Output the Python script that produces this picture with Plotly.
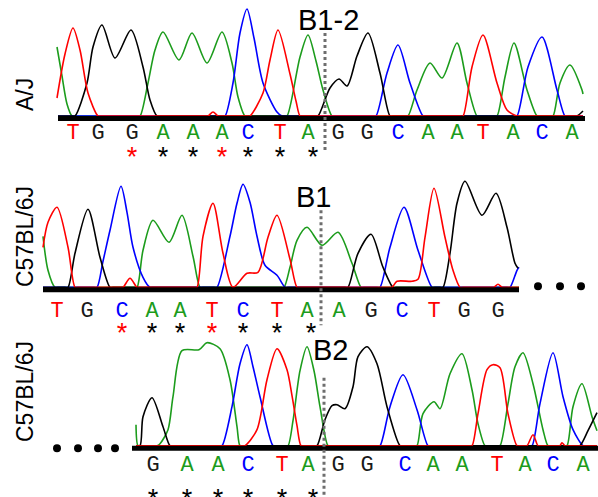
import plotly.graph_objects as go

W, H = 598, 497
GREEN = "#1c9c1c"
BLUE = "#0000ff"
RED = "#ff0000"
BLACK = "#000000"
BASE_COLOR = {"A": GREEN, "C": BLUE, "G": "#1a1a1a", "T": RED}

# ---------------- Panel 1 : A/J ----------------
P1_NAME = "A/J"
P1_CUT = "B1-2"
P1_BASES = list("TGGAAACTAGGCAATACA")
P1_BASE_X = [73, 98, 132, 163, 193, 222, 248, 280, 308, 338, 367, 398, 428, 457, 483, 513, 542, 572]
P1_STAR_X = [132, 163, 193, 222, 248, 280, 313]
P1_STAR_RED = [1, 0, 0, 1, 0, 0, 0]
P1_A = [(57, 69), (62, 40), (67, 12), (72, 0), (140, 0), (148, 33), (155, 66), (163, 84), (179, 56),
        (192, 83), (207, 53), (222, 84), (232, 53), (238, 19), (245, 0), (287, 0), (300, 59), (308, 81),
        (316, 55), (323, 26), (332, 0), (408, 0), (417, 26), (430, 53), (442, 38), (457, 73), (467, 33),
        (477, 0), (497, 0), (505, 39), (514, 73), (527, 26), (537, 0), (553, 0), (560, 33), (570, 51),
        (582, 26), (583, 22)]
P1_C = [(58, 0), (225, 0), (233, 33), (240, 83), (247, 107), (254, 78), (263, 33), (277, 4), (282, 0),
        (376, 0), (387, 43), (398, 71), (410, 33), (423, 0), (517, 0), (528, 49), (542, 79), (557, 26),
        (565, 0), (583, 0)]
P1_G = [(58, 0), (75, 0), (87, 33), (93, 69), (102, 91), (115, 58), (131, 86), (143, 49), (150, 16),
        (157, 0), (318, 0), (330, 28), (339, 37), (347, 30), (357, 60), (368, 83), (380, 43), (390, 0),
        (577, 0), (583, 5)]
P1_T = [(57, 18), (65, 62), (73, 88), (80, 66), (88, 23), (98, 0), (208, 0), (213, 4), (218, 0), (250, 0),
        (263, 23), (270, 56), (278, 86), (290, 42), (296, 15), (300, 0), (463, 0), (472, 49), (483, 81),
        (497, 33), (507, 6), (517, 0), (583, 0)]

# ---------------- Panel 2 : C57BL/6J (B1) ----------------
P2_NAME = "C57BL/6J"
P2_CUT = "B1"
P2_BASES = list("TGCAATCTAAGCTGG")
P2_BASE_X = [57, 87, 122, 152, 180, 212, 243, 277, 307, 339, 371, 402, 434, 464, 498]
P2_STAR_X = [122, 152, 180, 212, 243, 277, 311]
P2_STAR_RED = [1, 0, 0, 1, 0, 0, 0]
P2_A = [(43, 51), (48, 17), (55, 0), (137, 0), (143, 37), (153, 67), (169, 45), (182, 72), (193, 31),
        (200, 0), (284, 0), (290, 20), (297, 47), (307, 60), (322, 42), (338, 55), (352, 24), (361, 0),
        (519, 0)]
P2_C = [(43, 0), (97, 0), (103, 26), (110, 57), (121, 101), (127, 75), (133, 40), (143, 10), (150, 0),
        (217, 0), (230, 51), (237, 84), (243, 103), (250, 85), (257, 51), (265, 22), (277, 12), (285, 0),
        (380, 0), (390, 40), (404, 80), (418, 37), (432, 0), (510, 0), (517, 17), (519, 20)]
P2_G = [(43, 0), (68, 0), (75, 34), (88, 78), (100, 30), (110, 0), (348, 0), (358, 34), (371, 53),
        (383, 20), (393, 0), (443, 0), (450, 34), (457, 84), (465, 106), (482, 72), (496, 94), (507, 60),
        (515, 24), (518, 19)]
P2_T = [(43, 40), (48, 65), (57, 80), (68, 40), (75, 0), (123, 0), (130, 9), (137, 0), (197, 0), (203, 51),
        (213, 84), (223, 34), (233, 0), (247, 14), (258, 15), (268, 50), (277, 72), (290, 28), (297, 0),
        (392, 0), (397, 6), (412, 6), (418, 8), (425, 50), (434, 99), (445, 50), (453, 17), (460, 0),
        (494, 0), (498, 3), (502, 0), (519, 0)]

# ---------------- Panel 3 : C57BL/6J (B2) ----------------
P3_NAME = "C57BL/6J"
P3_CUT = "B2"
P3_BASES = list("GAACTAGGCAATACA")
P3_BASE_X = [153, 187, 218, 248, 282, 308, 338, 367, 405, 433, 462, 497, 525, 553, 583]
P3_STAR_X = [153, 187, 218, 248, 282, 313]
P3_STAR_RED = [0, 0, 0, 0, 0, 0]
P3_A = [(136, 21), (138, 0), (157, 0), (160, 2), (168, 16), (173, 49), (182, 95), (199, 96), (207, 103),
        (220, 97), (230, 66), (237, 19), (240, 0), (288, 0), (293, 25), (300, 75), (307, 99), (314, 75),
        (320, 39), (328, 0), (417, 0), (423, 32), (434, 44), (440, 37), (450, 72), (462, 92), (472, 56),
        (478, 22), (485, 0), (500, 0), (508, 42), (515, 79), (523, 93), (533, 62), (543, 16), (548, 0),
        (567, 0), (573, 39), (582, 62), (592, 29), (597, 15)]
P3_C = [(136, 0), (222, 0), (232, 39), (240, 82), (247, 101), (253, 79), (260, 49), (273, 0), (380, 0),
        (390, 39), (403, 71), (417, 36), (428, 0), (532, 0), (540, 42), (553, 93), (563, 49), (573, 16),
        (583, 0), (597, 0)]
P3_G = [(136, 0), (140, 0), (143, 29), (152, 48), (163, 19), (170, 0), (317, 0), (325, 26), (332, 40),
        (337, 41), (345, 37), (353, 59), (358, 89), (367, 99), (377, 82), (387, 39), (400, 0), (580, 0),
        (588, 15), (597, 33)]
P3_T = [(136, 0), (245, 0), (257, 16), (267, 66), (277, 97), (287, 76), (292, 50), (297, 20), (301, 0),
        (472, 0), (478, 32), (487, 76), (493, 81), (500, 78), (508, 32), (517, 0), (527, 0), (533, 11),
        (538, 0), (560, 0), (562, 3), (565, 0), (597, 0)]

# bar extents, cut positions, ellipsis dots
P1_BAR = [58, 585]
P2_BAR = [43, 519]
P3_BAR = [132, 598]
P1_CUT_X = 325
P2_CUT_X = 321
P3_CUT_X = 324
P2_DOTS_X = [538, 560, 581]
P3_DOTS_X = [57, 78, 98, 115]


def pad_flats(pts, inset=3):
    """Hold the trace on the baseline between peaks so the spline does not swing below it."""
    out = []
    for k, (x, y) in enumerate(pts):
        out.append((x, y))
        if k + 1 < len(pts):
            x2, y2 = pts[k + 1]
            if y == 0 and y2 == 0 and x2 - x > 2 * inset + 2:
                out.append((x + inset, 0))
                out.append((x2 - inset, 0))
    return out


panels = [
    dict(name=P1_NAME, cut=P1_CUT, bases=P1_BASES, bx=P1_BASE_X, sx=P1_STAR_X, sred=P1_STAR_RED,
         curves=[(P1_A, GREEN), (P1_C, BLUE), (P1_G, BLACK), (P1_T, RED)], bar=P1_BAR, cutx=P1_CUT_X,
         dots=[], top=0, bottom=165, base=116, letter_y=-17.5, star_y=-30, cut_span=(83, -36),
         cut_label=(328, 96), name_y=95),
    dict(name=P2_NAME, cut=P2_CUT, bases=P2_BASES, bx=P2_BASE_X, sx=P2_STAR_X, sred=P2_STAR_RED,
         curves=[(P2_A, GREEN), (P2_C, BLUE), (P2_G, BLACK), (P2_T, RED)], bar=P2_BAR, cutx=P2_CUT_X,
         dots=P2_DOTS_X, dots_y=1, top=165, bottom=330, base=287.3, letter_y=-24.5, star_y=-34,
         cut_span=(77, -38), cut_label=(313, 90), name_y=237),
    dict(name=P3_NAME, cut=P3_CUT, bases=P3_BASES, bx=P3_BASE_X, sx=P3_STAR_X, sred=P3_STAR_RED,
         curves=[(P3_A, GREEN), (P3_C, BLUE), (P3_G, BLACK), (P3_T, RED)], bar=P3_BAR, cutx=P3_CUT_X,
         dots=P3_DOTS_X, dots_y=-2.5, top=330, bottom=497, base=445.7, letter_y=-19.5, star_y=-42,
         cut_span=(68, -52), cut_label=(330, 96), name_y=392),
]

fig = go.Figure()
annotations = []
layout_axes = {}

for i, p in enumerate(panels, start=1):
    ya = "y" if i == 1 else f"y{i}"
    yl = "yaxis" if i == 1 else f"yaxis{i}"
    layout_axes[yl] = dict(domain=[1 - p["bottom"] / H, 1 - p["top"] / H],
                           range=[p["base"] - p["bottom"], p["base"] - p["top"]],
                           visible=False, fixedrange=True, anchor="x")
    for pts, col in p["curves"]:
        pp = pad_flats(pts)
        fig.add_trace(go.Scatter(x=[q[0] for q in pp], y=[q[1] for q in pp], yaxis=ya, mode="lines",
                                 line=dict(color=col, width=1.6, shape="spline", smoothing=0.8),
                                 hoverinfo="skip", showlegend=False))
    # baseline bar
    fig.add_trace(go.Scatter(x=p["bar"], y=[-2.5, -2.5], yaxis=ya, mode="lines",
                             line=dict(color=BLACK, width=5), hoverinfo="skip", showlegend=False))
    # base calls
    fig.add_trace(go.Scatter(x=p["bx"], y=[p["letter_y"]] * len(p["bx"]), yaxis=ya, mode="text",
                             text=p["bases"],
                             textfont=dict(family="Liberation Mono, DejaVu Sans Mono, monospace",
                                           size=22, color=[BASE_COLOR[b] for b in p["bases"]]),
                             hoverinfo="skip", showlegend=False, cliponaxis=False))
    # stars (text hangs below its anchor)
    fig.add_trace(go.Scatter(x=p["sx"], y=[p["star_y"]] * len(p["sx"]), yaxis=ya, mode="text",
                             text=["*"] * len(p["sx"]), textposition="bottom center",
                             textfont=dict(family="Liberation Sans", size=27,
                                           color=[RED if r else BLACK for r in p["sred"]]),
                             hoverinfo="skip", showlegend=False, cliponaxis=False))
    # cut line
    fig.add_trace(go.Scatter(x=[p["cutx"], p["cutx"]], y=list(p["cut_span"]), yaxis=ya, mode="lines",
                             line=dict(color="#6e6e6e", width=3, dash="dot"),
                             hoverinfo="skip", showlegend=False, cliponaxis=False))
    # ellipsis dots
    if p["dots"]:
        fig.add_trace(go.Scatter(x=p["dots"], y=[p["dots_y"]] * len(p["dots"]), yaxis=ya, mode="markers",
                                 marker=dict(color=BLACK, size=8), hoverinfo="skip", showlegend=False,
                                 cliponaxis=False))
    annotations.append(dict(x=p["cut_label"][0], y=p["cut_label"][1], xref="x", yref=ya, text=p["cut"],
                            showarrow=False, xanchor="center", yanchor="middle",
                            font=dict(family="Liberation Sans, Arial", size=29, color=BLACK)))
    annotations.append(dict(x=25 / W, y=1 - p["name_y"] / H, xref="paper", yref="paper", text=p["name"],
                            textangle=-90, showarrow=False, xanchor="center", yanchor="middle",
                            font=dict(family="Liberation Sans, Arial", size=23, color=BLACK)))

fig.update_layout(
    width=W, height=H, margin=dict(l=0, r=0, t=0, b=0),
    paper_bgcolor="white", plot_bgcolor="white",
    xaxis=dict(range=[0, W], visible=False, fixedrange=True, domain=[0, 1]),
    annotations=annotations, showlegend=False, **layout_axes)

fig.write_html("out.html", config={"displayModeBar": False},
               post_script="document.body.style.margin='0';document.body.style.overflow='hidden';")
